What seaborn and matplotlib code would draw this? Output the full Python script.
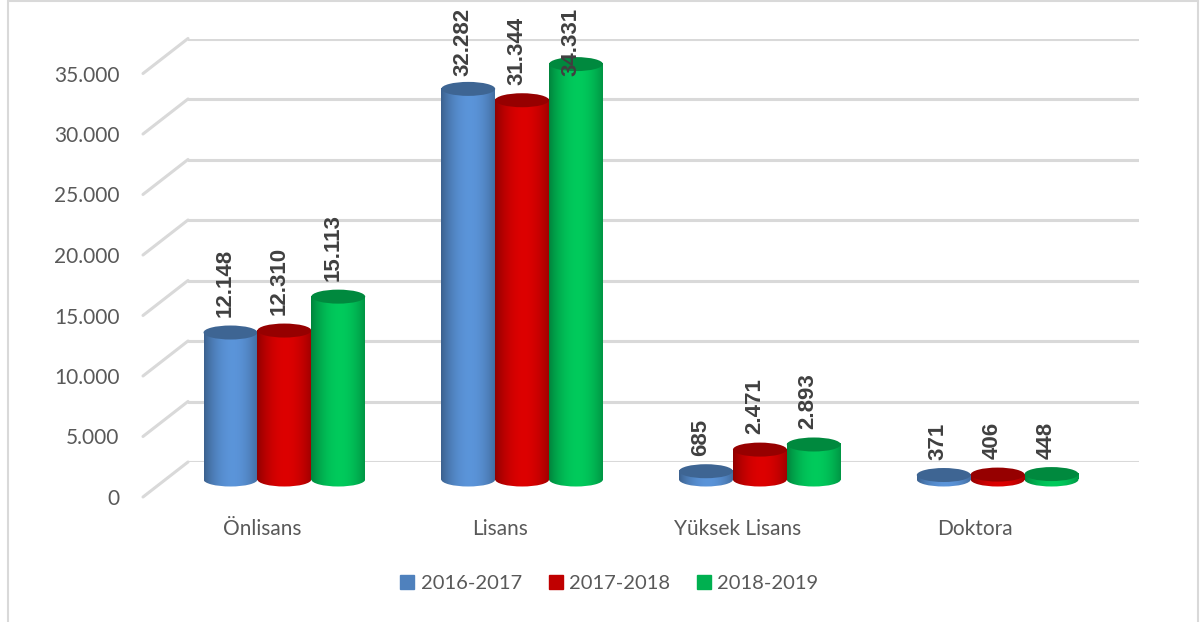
import numpy as np
import pandas as pd
import matplotlib
matplotlib.use("Agg")
import matplotlib.pyplot as plt
import seaborn as sns
from matplotlib.patches import Ellipse, Rectangle, ConnectionPatch
from matplotlib.colors import to_rgb
from matplotlib.lines import Line2D

# ---- data ----
categories = ["Önlisans", "Lisans", "Yüksek Lisans", "Doktora"]
years = ["2016-2017", "2017-2018", "2018-2019"]
v_2016_2017 = [12148, 32282, 685, 371]
v_2017_2018 = [12310, 31344, 2471, 406]
v_2018_2019 = [15113, 34331, 2893, 448]
yticks = [0, 5000, 10000, 15000, 20000, 25000, 30000, 35000]
ytick_labels = ["0", "5.000", "10.000", "15.000", "20.000", "25.000", "30.000", "35.000"]
colors = ["#4F81BD", "#C00000", "#00B050"]

series = [v_2016_2017, v_2017_2018, v_2018_2019]
df = pd.DataFrame({
    "cat": [c for s in series for c in categories],
    "year": [y for y, s in zip(years, series) for _ in s],
    "val": [v for s in series for v in s],
})

sns.set_theme(style="white")
plt.rcParams["font.family"] = ["Lato", "DejaVu Sans"]

W, H = 1202, 622
fig = plt.figure(figsize=(W / 100, H / 100), dpi=100)

# plane geometry (pixels)
front_left, zero_y, plot_w, plot_h = 143.0, 497.0, 951.0, 423.5
dx, dy = 22.5, 17.5  # half depth offset


def axes_rect(offx, offy):
    return [(front_left + offx) / W, (H - zero_y + offy) / H, plot_w / W, plot_h / H]


ax_b = fig.add_axes(axes_rect(2 * dx, 2 * dy))   # back wall
ax_f = fig.add_axes(axes_rect(0, 0))             # front plane (labels)
ax = fig.add_axes(axes_rect(dx, dy))             # bars (mid depth)

for a in (ax_b, ax_f, ax):
    a.set_xlim(-0.5, 3.5)
    a.set_ylim(0, 35000)
    a.patch.set_alpha(0)
    for s in a.spines.values():
        s.set_visible(False)

# back wall grid
ax_b.set_xticks([])
ax_b.set_yticks(yticks)
ax_b.set_yticklabels([])
ax_b.tick_params(left=False)
ax_b.grid(axis="y", color="#D9D9D9", linewidth=2.2)
ax_b.set_zorder(0)

# side diagonals
for v in yticks:
    cp = ConnectionPatch(xyA=(-0.5, v), coordsA=ax_f.transData,
                         xyB=(-0.5, v), coordsB=ax_b.transData,
                         color="#D9D9D9", linewidth=2.2)
    fig.add_artist(cp)

# front plane labels
ax_f.set_xticks(range(len(categories)))
ax_f.set_xticklabels(categories)
ax_f.set_yticks(yticks)
ax_f.set_yticklabels(ytick_labels)
ax_f.tick_params(axis="x", length=0, pad=16, labelsize=15, labelcolor="#595959")
ax_f.tick_params(axis="y", length=0, pad=17, labelsize=15, labelcolor="#595959")
ax_f.set_zorder(1)

# bars
ax.set_zorder(2)
sns.barplot(data=df, x="cat", y="val", hue="year", order=categories,
            hue_order=years, palette=colors, width=0.68, gap=0,
            saturation=1, ax=ax, legend=False, linewidth=0)
ax.set_xlim(-0.5, 3.5)
ax.set_ylim(0, 35000)
ax.set_xticks([])
ax.set_yticks([])
ax.set_xlabel("")
ax.set_ylabel("")

eh = 14 * 35000 / plot_h  # ellipse height in data units
t = np.linspace(0, 1, 128)
shade = 0.70 + 0.45 * np.sin(np.pi * np.clip(t * 0.9 + 0.02, 0, 1)) ** 0.8

bars = [p for p in ax.patches if isinstance(p, Rectangle) and p.get_height() > 0]
bars.sort(key=lambda p: p.get_x())
for i, p in enumerate(bars):
    x0, w, h = p.get_x(), p.get_width(), p.get_height()
    xc = x0 + w / 2
    base = np.array(to_rgb(p.get_facecolor()))
    grad = np.clip(base[None, :] * shade[:, None], 0, 1)[None, :, :]
    z = 3 + i * 0.01
    # bottom half-ellipse
    be = Ellipse((xc, 0), w, eh, transform=ax.transData, facecolor="none", edgecolor="none")
    ax.add_patch(be)
    be.set_clip_on(False)
    im = ax.imshow(grad, extent=[x0, x0 + w, -eh, eh], aspect="auto",
                   zorder=z, interpolation="bilinear")
    im.set_clip_path(be)
    im.set_clip_box(fig.bbox)
    # body
    p.set_zorder(z)
    im2 = ax.imshow(grad, extent=[x0, x0 + w, 0, h], aspect="auto",
                    zorder=z + 0.001, interpolation="bilinear")
    im2.set_clip_path(p)
    im2.set_clip_box(fig.bbox)
    # top cap
    top = np.clip(base * 0.78, 0, 1)
    ax.add_patch(Ellipse((xc, h), w, eh, facecolor=top, edgecolor="none",
                         zorder=z + 0.002, clip_on=False))
ax.set_xlim(-0.5, 3.5)
ax.set_ylim(0, 35000)

# value labels
anns = []
for p in bars:
    x0, w, h = p.get_x(), p.get_width(), p.get_height()
    lbl = f"{int(round(h)):,}".replace(",", ".")
    a = ax.annotate(lbl, xy=(x0 + w / 2, h), xytext=(-4, 11), textcoords="offset points",
                    rotation=90, rotation_mode="anchor", ha="left", va="center",
                    fontsize=16, fontweight="bold", color="#404040",
                    family=["Liberation Sans", "DejaVu Sans"],
                    annotation_clip=False, zorder=10)
    anns.append(a)

# keep labels inside the chart area (as the original does)
fig.canvas.draw()
r = fig.canvas.get_renderer()
for a in anns:
    bb = a.get_window_extent(r)
    limit = H - 8
    if bb.y1 > limit:
        shift_pt = (bb.y1 - limit) * 72 / fig.dpi
        ox, oy = a.xyann
        a.xyann = (ox, oy - shift_pt)

# legend
handles = [Line2D([0], [0], marker="s", linestyle="none", markersize=10,
                  markerfacecolor=c, markeredgecolor=c) for c in colors]
fig.legend(handles, years, loc="center", bbox_to_anchor=(608 / W, 1 - 583 / H),
           ncol=3, frameon=False, fontsize=14.5, labelcolor="#595959",
           handletextpad=0.15, columnspacing=1.2, handlelength=1.0)

# chart border
fig.add_artist(Rectangle((8 / W, -0.01), (1198 - 8) / W, (622 - 1) / H + 0.01,
                         transform=fig.transFigure, facecolor="none",
                         edgecolor="#D9D9D9", linewidth=1.5))

fig.savefig("out.png", dpi=100)
